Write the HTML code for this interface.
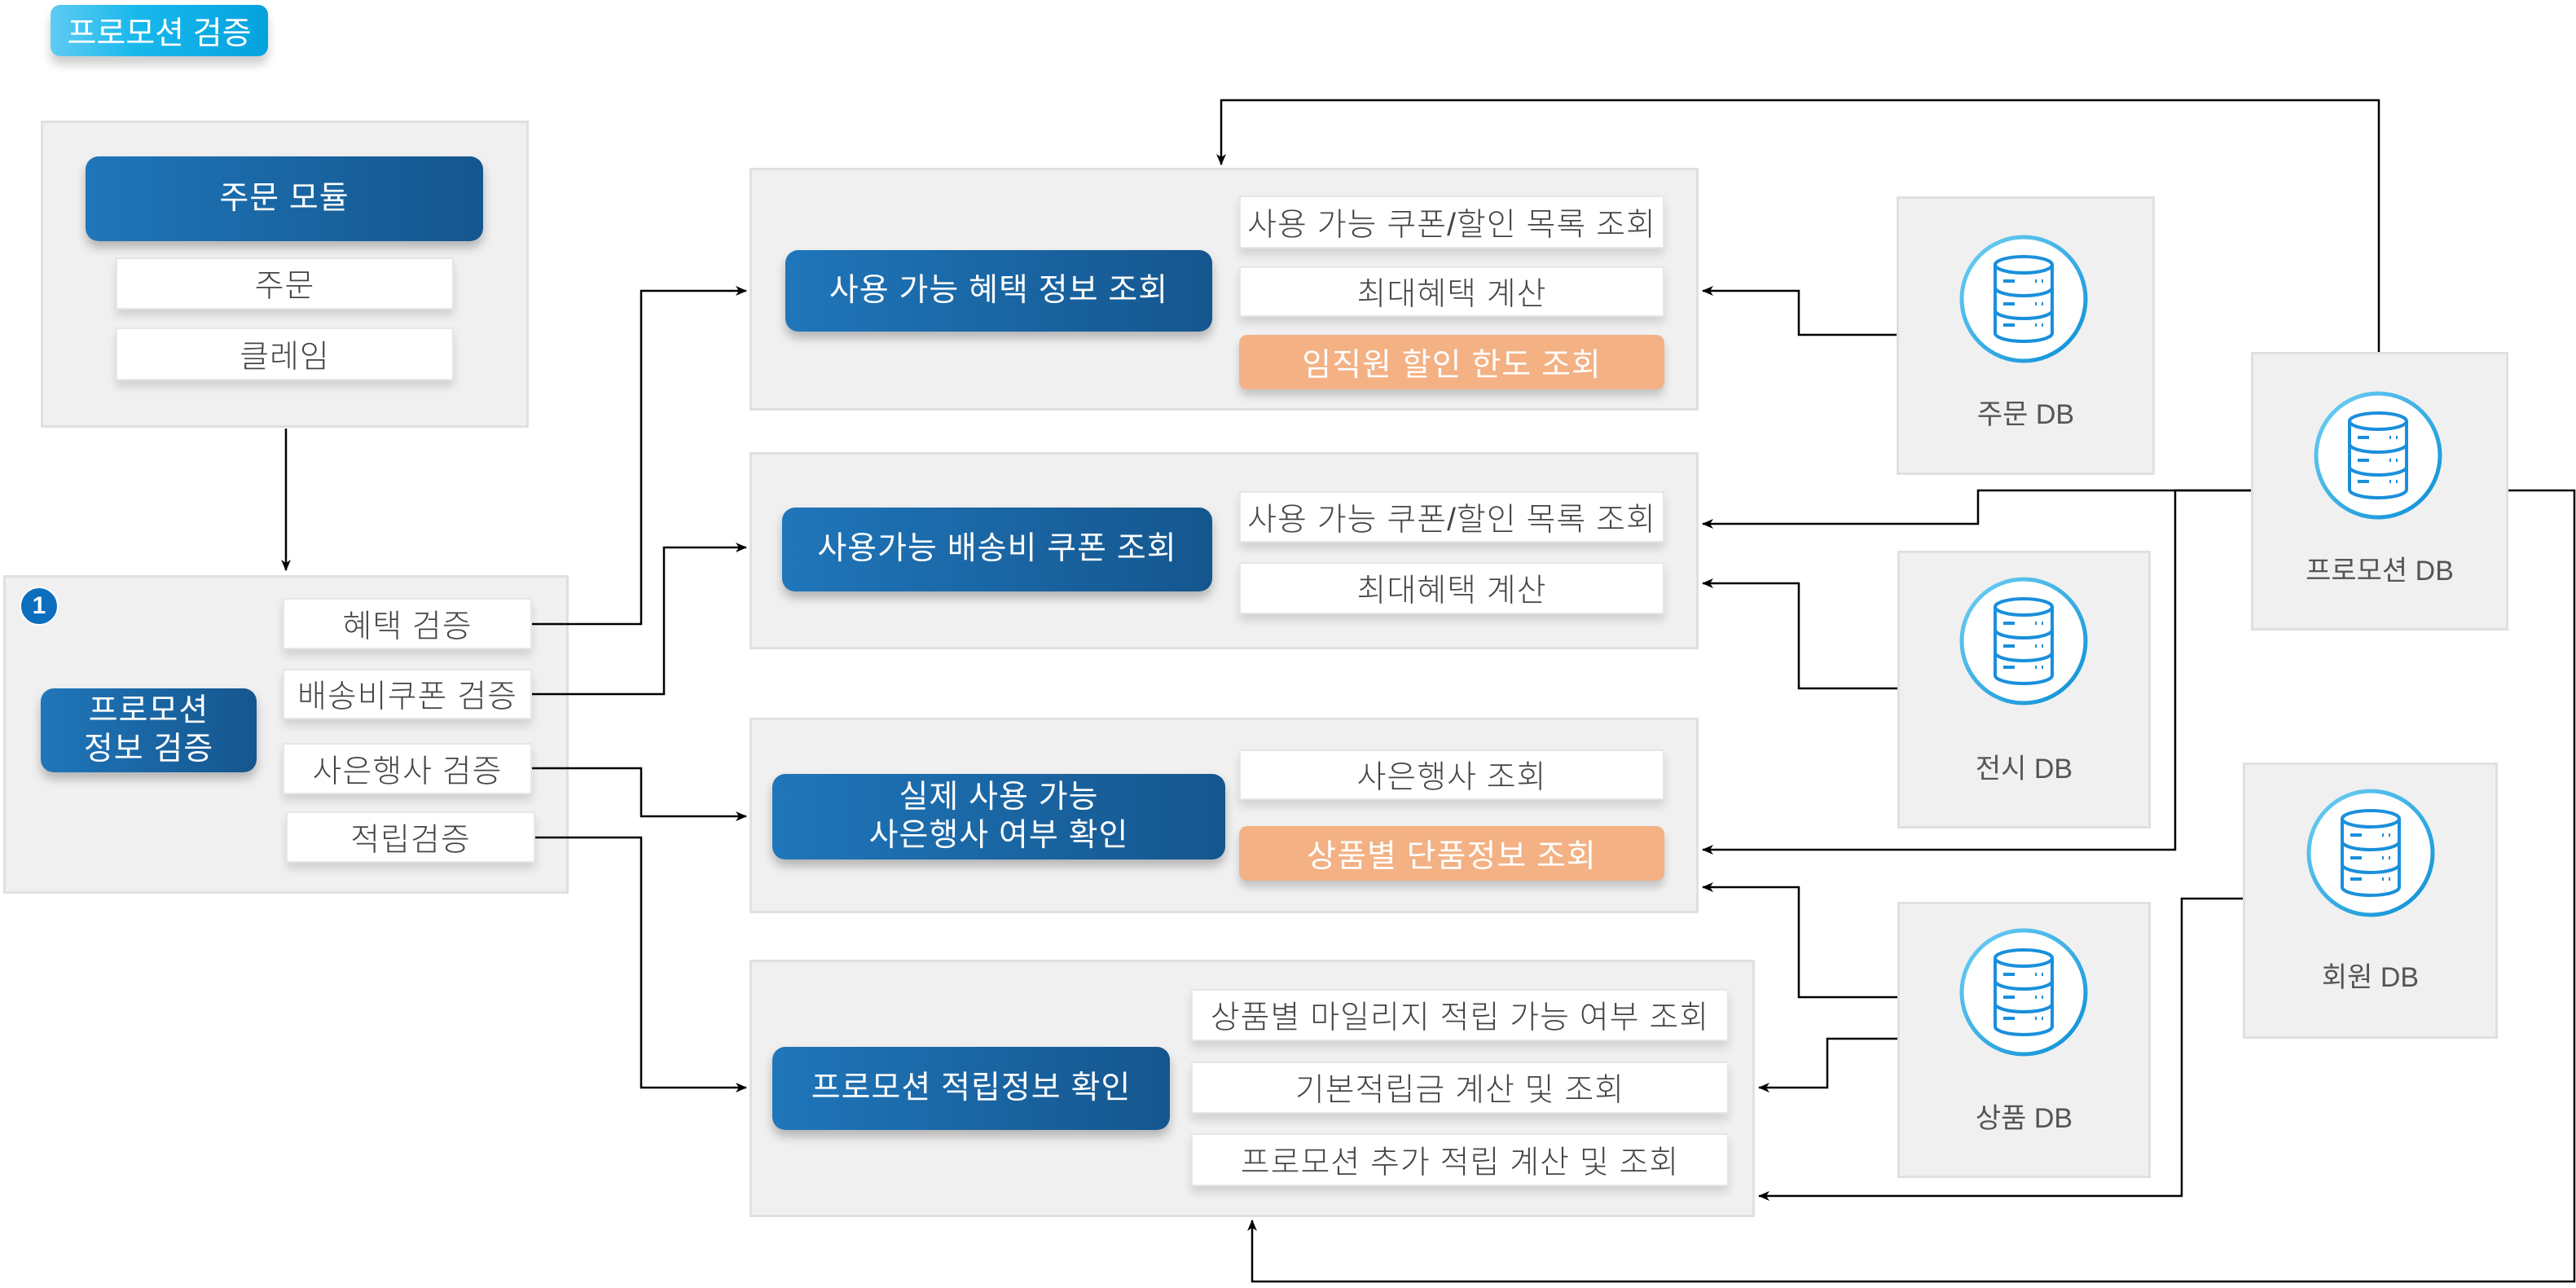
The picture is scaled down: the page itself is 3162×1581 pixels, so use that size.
<!DOCTYPE html>
<html><head><meta charset="utf-8"><style>
body{margin:0;width:3162px;height:1581px;background:#fff;position:relative;overflow:hidden;font-family:"Liberation Sans","Noto Sans CJK KR",sans-serif;}
.a{position:absolute;box-sizing:border-box;display:flex;align-items:center;justify-content:center;text-align:center;white-space:nowrap;}
.g{background:#f0f0f0;border:3px solid #e0e0e2;}
.w{background:#fff;border:2px solid #e6e6e6;color:#444;font-size:39px;font-weight:300;box-shadow:0 8px 10px rgba(0,0,0,0.12);letter-spacing:1px;}
.b{background:linear-gradient(90deg,#1f76ba,#15568e);color:#fff;font-size:39px;border-radius:16px;box-shadow:0 8px 12px rgba(0,0,0,0.25);line-height:1.2;letter-spacing:1px;}
.o{background:#f3b184;color:#fff;font-size:39px;border-radius:10px;box-shadow:0 8px 10px rgba(0,0,0,0.18);letter-spacing:1px;}
.lbl{color:#555;font-size:34px;}
</style></head><body>
<div class="a" style="left:62px;top:6px;width:267px;height:63px;border-radius:12px;background:linear-gradient(90deg,#5ecbf2,#18b8ec 40%,#05a2de);color:#fff;font-size:39px;box-shadow:0 10px 12px rgba(0,0,0,0.2);">프로모션 검증</div>

<div class="a g" style="left:50px;top:148px;width:599px;height:377px;"></div>
<div class="a b" style="left:105px;top:192px;width:488px;height:104px;">주문 모듈</div>
<div class="a w" style="left:142px;top:316px;width:415px;height:64px;">주문</div>
<div class="a w" style="left:142px;top:402px;width:415px;height:65px;">클레임</div>

<div class="a g" style="left:4px;top:706px;width:694px;height:391px;"></div>
<div class="a" style="left:24px;top:720px;width:48px;height:48px;border-radius:50%;background:#0d6ebd;color:#fff;font-size:30px;font-weight:bold;border:2px solid #fff;">1</div>
<div class="a b" style="left:50px;top:845px;width:265px;height:103px;">프로모션<br>정보 검증</div>
<div class="a w" style="left:347px;top:734px;width:306px;height:63px;">혜택 검증</div>
<div class="a w" style="left:347px;top:821px;width:306px;height:62px;">배송비쿠폰 검증</div>
<div class="a w" style="left:347px;top:912px;width:306px;height:63px;">사은행사 검증</div>
<div class="a w" style="left:351px;top:996px;width:306px;height:63px;">적립검증</div>

<div class="a g" style="left:920px;top:206px;width:1165px;height:298px;"></div>
<div class="a b" style="left:964px;top:307px;width:524px;height:100px;">사용 가능 혜택 정보 조회</div>
<div class="a w" style="left:1521px;top:240px;width:522px;height:65px;">사용 가능 쿠폰/할인 목록 조회</div>
<div class="a w" style="left:1521px;top:327px;width:522px;height:62px;">최대혜택 계산</div>
<div class="a o" style="left:1521px;top:411px;width:522px;height:67px;">임직원 할인 한도 조회</div>

<div class="a g" style="left:920px;top:555px;width:1165px;height:242px;"></div>
<div class="a b" style="left:960px;top:623px;width:528px;height:103px;">사용가능 배송비 쿠폰 조회</div>
<div class="a w" style="left:1521px;top:603px;width:522px;height:63px;">사용 가능 쿠폰/할인 목록 조회</div>
<div class="a w" style="left:1521px;top:690px;width:522px;height:64px;">최대혜택 계산</div>

<div class="a g" style="left:920px;top:881px;width:1165px;height:240px;"></div>
<div class="a b" style="left:948px;top:950px;width:556px;height:105px;">실제 사용 가능<br>사은행사 여부 확인</div>
<div class="a w" style="left:1521px;top:920px;width:522px;height:62px;">사은행사 조회</div>
<div class="a o" style="left:1521px;top:1014px;width:522px;height:67px;">상품별 단품정보 조회</div>

<div class="a g" style="left:920px;top:1178px;width:1234px;height:316px;"></div>
<div class="a b" style="left:948px;top:1285px;width:488px;height:102px;">프로모션 적립정보 확인</div>
<div class="a w" style="left:1462px;top:1214px;width:660px;height:64px;">상품별 마일리지 적립 가능 여부 조회</div>
<div class="a w" style="left:1462px;top:1303px;width:660px;height:64px;">기본적립금 계산 및 조회</div>
<div class="a w" style="left:1462px;top:1391px;width:660px;height:65px;">프로모션 추가 적립 계산 및 조회</div>

<div class="a g" style="left:2328px;top:241px;width:317px;height:342px;"></div>
<div class="a lbl" style="left:2328px;top:480px;width:317px;height:50px;">주문 DB</div>
<div class="a g" style="left:2329px;top:676px;width:311px;height:341px;"></div>
<div class="a lbl" style="left:2329px;top:915px;width:311px;height:50px;">전시 DB</div>
<div class="a g" style="left:2329px;top:1107px;width:311px;height:339px;"></div>
<div class="a lbl" style="left:2329px;top:1344px;width:311px;height:50px;">상품 DB</div>
<div class="a g" style="left:2763px;top:432px;width:316px;height:342px;"></div>
<div class="a lbl" style="left:2763px;top:672px;width:316px;height:50px;">프로모션 DB</div>
<div class="a g" style="left:2753px;top:936px;width:313px;height:339px;"></div>
<div class="a lbl" style="left:2753px;top:1171px;width:313px;height:50px;">회원 DB</div>

<svg width="3162" height="1581" style="position:absolute;left:0;top:0;">
<defs>
<marker id="ar" markerWidth="14" markerHeight="12" refX="13" refY="6" orient="auto" markerUnits="userSpaceOnUse" viewBox="0 0 14 12">
<path d="M0,0 L14,6 L0,12 L4,6 Z" fill="#000"/></marker>
<linearGradient id="cg" x1="0" y1="0" x2="1" y2="1"><stop offset="0" stop-color="#6fd0f4"/><stop offset="1" stop-color="#0a8fd6"/></linearGradient>
<g id="db">
<circle r="76" fill="#fff" stroke="url(#cg)" stroke-width="5"/>
<g fill="none" stroke="#1a8fdc" stroke-width="4">
<ellipse cx="0" cy="-42" rx="35" ry="10"/>
<path d="M-35,-42 V42 A35,10 0 0 0 35,42 V-42"/>
<path d="M-35,-14 A35,10 0 0 0 35,-14 M-35,14 A35,10 0 0 0 35,14"/>
<path d="M-25,-22 h14 M-25,6 h14 M-25,32 h14"/>
<path d="M14,-22 h2 M22,-22 h2 M14,6 h2 M22,6 h2 M14,32 h2 M22,32 h2"/>
</g></g>
</defs>
<use href="#db" x="2484" y="367"/>
<use href="#db" x="2484" y="787"/>
<use href="#db" x="2484" y="1218"/>
<use href="#db" x="2919" y="559"/>
<use href="#db" x="2910" y="1047"/>
<g fill="none" stroke="#000" stroke-width="2.5">
<path d="M351,526 V700" marker-end="url(#ar)"/>
<path d="M653,766 H787 V357 H916" marker-end="url(#ar)"/>
<path d="M653,852 H815 V672 H916" marker-end="url(#ar)"/>
<path d="M653,943 H787 V1002 H916" marker-end="url(#ar)"/>
<path d="M657,1028 H787 V1335 H916" marker-end="url(#ar)"/>
<path d="M2328,411 H2208 V357 H2090" marker-end="url(#ar)"/>
<path d="M2329,845 H2208 V716 H2090" marker-end="url(#ar)"/>
<path d="M2763,602 H2428 V643 H2090" marker-end="url(#ar)"/>
<path d="M2763,602 H2670 V1043 H2090" marker-end="url(#ar)"/>
<path d="M2920,432 V123 H1499 V202" marker-end="url(#ar)"/>
<path d="M3079,602 H3160 V1573 H1537 V1498" marker-end="url(#ar)"/>
<path d="M2329,1224 H2208 V1089 H2090" marker-end="url(#ar)"/>
<path d="M2329,1275 H2243 V1335 H2159" marker-end="url(#ar)"/>
<path d="M2753,1103 H2678 V1468 H2159" marker-end="url(#ar)"/>
</g>
</svg>
</body></html>
